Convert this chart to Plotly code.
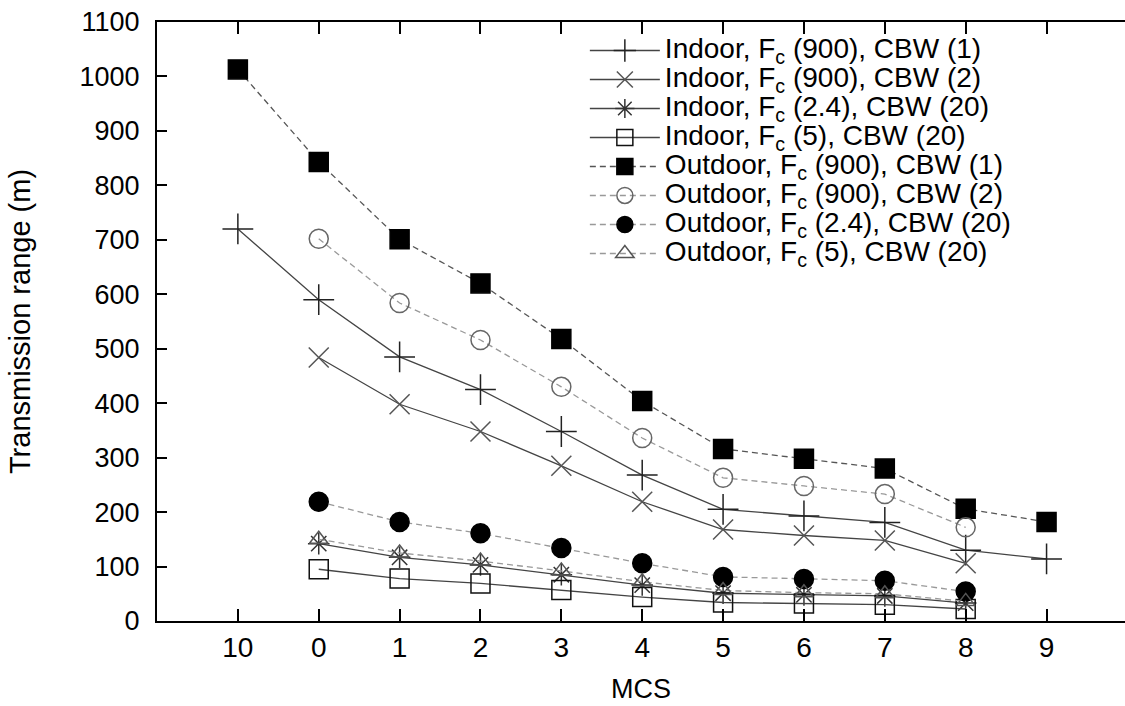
import plotly.graph_objects as go

# MCS categories in the order shown on the x axis
mcs = ["10", "0", "1", "2", "3", "4", "5", "6", "7", "8", "9"]

indoor_900_1 = [720, 590, 485, 425, 348, 268, 205, 193, 181, 130, 114]
indoor_900_2 = [None, 484, 398, 348, 285, 219, 168, 157, 148, 106, None]
indoor_24_20 = [None, 142, 117, 103, 85, 66, 51, 48, 46, 33, None]
indoor_5_20 = [None, 95, 78, 69, 57, 44, 34, 32, 30, 22, None]
outdoor_900_1 = [1013, 843, 701, 620, 518, 404, 316, 298, 280, 206, 182]
outdoor_900_2 = [None, 702, 584, 516, 430, 336, 263, 248, 233, 172, None]
outdoor_24_20 = [None, 219, 182, 161, 134, 106, 81, 77, 74, 54, None]
outdoor_5_20 = [None, 150, 125, 110, 92, 72, 56, 52, 50, 36, None]

names = [
    "Indoor, F<sub>c</sub> (900), CBW (1)",
    "Indoor, F<sub>c</sub> (900), CBW (2)",
    "Indoor, F<sub>c</sub> (2.4), CBW (20)",
    "Indoor, F<sub>c</sub> (5), CBW (20)",
    "Outdoor, F<sub>c</sub> (900), CBW (1)",
    "Outdoor, F<sub>c</sub> (900), CBW (2)",
    "Outdoor, F<sub>c</sub> (2.4), CBW (20)",
    "Outdoor, F<sub>c</sub> (5), CBW (20)",
]
series = [indoor_900_1, indoor_900_2, indoor_24_20, indoor_5_20,
          outdoor_900_1, outdoor_900_2, outdoor_24_20, outdoor_5_20]

# (line colour, dash, marker symbol, marker size, marker colour)
styles = [
    ("#444", "solid", "cross-thin-open", 22, "#222"),
    ("#444", "solid", "x-thin-open", 20, "#555"),
    ("#444", "solid", "asterisk-open", 18, "#333"),
    ("#444", "solid", "square-open", 19, "#111"),
    ("#555", "6px,4px", "square", 19, "#000"),
    ("#999", "6px,4px", "circle-open", 19, "#666"),
    ("#999", "6px,4px", "circle", 19, "#000"),
    ("#999", "6px,4px", "triangle-up-open", 16, "#555"),
]

fig = go.Figure()
for nm, ys, (lc, dash, sym, sz, mc) in zip(names, series, styles):
    fig.add_trace(go.Scatter(
        x=mcs, y=ys, mode="lines+markers",
        name='<span style="font-size:28px">' + nm + "</span>",
        line=dict(color=lc, width=1.3, dash=dash),
        marker=dict(symbol=sym, size=sz, color=mc, line=dict(color=mc, width=1.5)),
    ))

fig.update_layout(
    width=1125, height=706,
    margin=dict(l=157, r=0, t=22, b=85),
    paper_bgcolor="white", plot_bgcolor="white",
    font=dict(family="Liberation Sans, Arial", color="black"),
    legend=dict(x=0.442, y=0.985, xanchor="left", yanchor="top",
                font=dict(size=20), bgcolor="rgba(0,0,0,0)",
                itemwidth=70, tracegroupgap=0),
    xaxis=dict(type="category", range=[-1, 10.97],
               showline=True, linecolor="black", linewidth=2, mirror="ticks",
               ticks="inside", ticklen=12, tickwidth=2, tickcolor="black",
               showgrid=False, zeroline=False,
               tickfont=dict(family="Liberation Sans Narrow, Liberation Sans", size=28),
               title=dict(text="MCS", font=dict(size=27), standoff=18)),
    yaxis=dict(range=[0, 1100], dtick=100,
               showline=True, linecolor="black", linewidth=2,
               ticks="inside", ticklen=10, tickwidth=2, tickcolor="black",
               showgrid=False, zeroline=False, ticklabelstandoff=10,
               tickfont=dict(size=27),
               title=dict(text="Transmission range (m)", font=dict(size=29), standoff=40)),
)

fig.write_html("out.html", config={"displayModeBar": False},
               post_script="document.body.style.margin='0px';")
